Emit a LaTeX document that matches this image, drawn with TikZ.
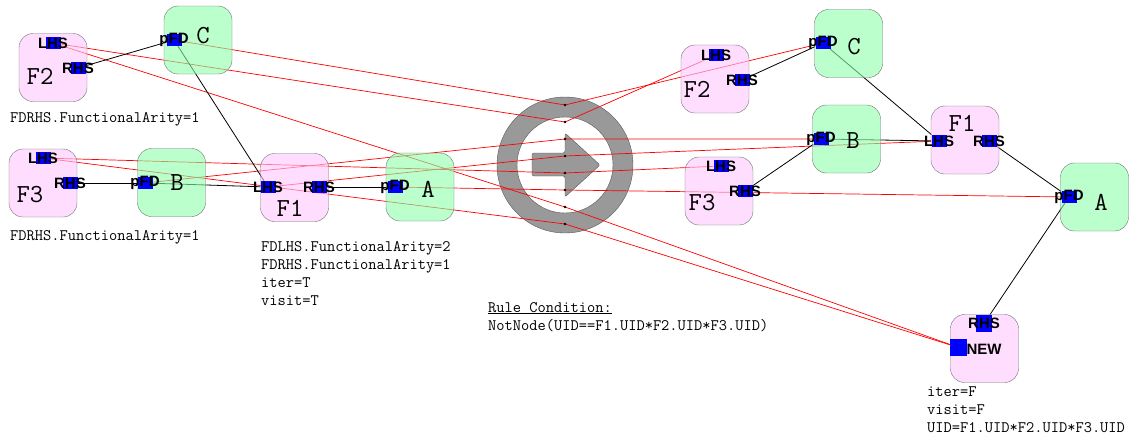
\documentclass[tikz,border=0pt]{standalone}
\usepackage{fontspec}
\newfontfamily\portfont{Liberation Sans}
\usetikzlibrary{backgrounds}
\definecolor{fpink}{RGB}{255,198,255}
\definecolor{fgreen}{RGB}{142,255,170}
\definecolor{ringgray}{RGB}{153,153,153}
\tikzset{
	fbox/.style={draw=black!55, fill=fpink, fill opacity=0.6, rounded corners=14pt, minimum width=68pt, minimum height=68pt, inner sep=0pt},
	vbox/.style={fbox, fill=fgreen},
	portsq/.style={fill=blue, minimum width=15pt, minimum height=12pt, inner sep=0pt},
	port/.style={portsq, append after command={node[portlbl] at (\tikzlastnode.center) {#1}}},
	portlbl/.style={font=\portfont\bfseries\fontsize{15}{15}\selectfont, inner sep=0pt},
	big/.style={font=\ttfamily\fontsize{26}{26}\selectfont, inner sep=0pt},
	note/.style={font=\ttfamily\fontsize{16}{18}\selectfont, align=left, anchor=base west, inner sep=0pt},
	link/.style={black, line width=0.8pt},
	map/.style={red, line width=0.7pt},
	mdot/.style={circle, fill=black, inner sep=0pt, minimum size=2.6pt}
}

\begin{document}
\begin{tikzpicture}[x=1pt, y=-1pt]
	%%%%% START %%%%%
	\useasboundingbox (0,0) rectangle (1133,437);
	
	% left hand side
	\node[fbox] (lf2) at (53,67.5) {};
	\node[big] (lf2t) at (40,76) {F2};
	\node[vbox] (lc) at (198,40) {};
	\node[big] (lct) at (203,36) {C};
	\node[fbox] (lf3) at (43,183) {};
	\node[big] (lf3t) at (30,195) {F3};
	\node[vbox] (lb) at (171.5,182.5) {};
	\node[big] (lbt) at (177,183) {B};
	\node[fbox] (lf1) at (294.5,187.5) {};
	\node[big] (lf1t) at (290,208) {F1};
	\node[vbox] (la) at (420,187) {};
	\node[big] (lat) at (428,189) {A};
	
	\node[port=LHS] (lf2l) at (53,43) {};
	\node[port=RHS] (lf2r) at (78,68) {};
	\node[port=pFD] (lcp) at (174,40) {};
	\node[port=LHS] (lf3l) at (43,158) {};
	\node[port=RHS] (lf3r) at (70,183) {};
	\node[port=pFD] (lbp) at (145,183) {};
	\node[port=LHS] (lf1l) at (268,187) {};
	\node[port=RHS] (lf1r) at (319,187) {};
	\node[port=pFD] (lap) at (395,187) {};
	
	\node[note] (lf2n) at (10,122) {FDRHS.FunctionalArity=1};
	\node[note] (lf3n) at (10,240) {FDRHS.FunctionalArity=1};
	\node[note] (lf1n) at (261,305) {FDLHS.FunctionalArity=2\\FDRHS.FunctionalArity=1\\iter=T\\visit=T};
	\node[note] (cond) at (488,330) {\underline{Rule Condition:}\\NotNode(UID==F1.UID*F2.UID*F3.UID)};
	
	% right hand side
	\node[fbox] (rf2) at (715,79) {};
	\node[big] (rf2t) at (697,89) {F2};
	\node[vbox] (rc) at (848.5,43.5) {};
	\node[big] (rct) at (854,47) {C};
	\node[vbox] (rb) at (846.5,139) {};
	\node[big] (rbt) at (853,141) {B};
	\node[fbox] (rf3) at (719,191) {};
	\node[big] (rf3t) at (702,203) {F3};
	\node[fbox] (rf1) at (965,140) {};
	\node[big] (rf1t) at (962,123) {F1};
	\node[vbox] (ra) at (1094.5,197) {};
	\node[big] (rat) at (1101,202) {A};
	\node[fbox] (rn) at (984.5,348.5) {};
	
	\node[port=LHS] (rf2l) at (716,55) {};
	\node[port=RHS] (rf2r) at (742,80) {};
	\node[port=pFD] (rcp) at (823,43) {};
	\node[port=pFD] (rbp) at (821,139) {};
	\node[port=LHS] (rf3l) at (721,166) {};
	\node[port=RHS] (rf3r) at (745,191) {};
	\node[port=LHS] (rf1l) at (939,141) {};
	\node[port=RHS] (rf1r) at (989,141) {};
	\node[port=pFD] (rap) at (1069,197) {};
	\node[port=RHS, minimum width=16pt, minimum height=17pt] (rnr) at (984,323.5) {};
	\node[portsq, minimum width=17pt, minimum height=17pt] (rnp) at (958.5,347.5) {};
	\node[portlbl] (rnt) at (984,349) {NEW};
	
	\node[note] (rnn) at (927,432) {iter=F\\visit=F\\UID=F1.UID*F2.UID*F3.UID};
	
	% mapping points
	\foreach \i in {1,...,8}
		\node[mdot] (m\i) at (565,{88+17*\i}) {};
	
	\begin{scope}[on background layer]
		\fill[ringgray, even odd rule] (565,165) circle (68pt) (565,165) circle (48pt);
		\draw[black!65] (565,165) circle (68pt) (565,165) circle (48pt);
		\filldraw[fill=ringgray, draw=black!65, rounded corners=2pt] (532,153) -- (565,153) -- (565,133) -- (600,165) -- (565,197) -- (565,176) -- (532,176) -- cycle;
		
		\draw[map] (lcp) -- (m1.center) -- (rcp);
		\draw[map] (lf2l) -- (m2.center) -- (rf2l);
		\draw[map] (lbp) -- (m3.center) -- (rbp);
		\draw[map] (lf1l) -- (m4.center) -- (rf1l);
		\draw[map] (lf3l) -- (m5.center) -- (rf3l);
		\draw[map] (lap) -- (m6.center) -- (rap);
		\draw[map] (lf2l) -- (m7.center) -- (rnp);
		\draw[map] (lf3l) -- (m8.center) -- (rnp);
		
		\draw[link] (lf2r) -- (lcp);
		\draw[link] (lcp) -- (lf1l);
		\draw[link] (lf3r) -- (lbp);
		\draw[link] (lbp) -- (lf1l);
		\draw[link] (lf1r) -- (lap);
		
		\draw[link] (rf2r) -- (rcp);
		\draw[link] (rcp) -- (rf1l);
		\draw[link] (rf3r) -- (rbp);
		\draw[link] (rbp) -- (rf1l);
		\draw[link] (rf1r) -- (rap);
		\draw[link] (rap) -- (rnr);
	\end{scope}
	%%%%% END %%%%%
\end{tikzpicture}
\end{document}
